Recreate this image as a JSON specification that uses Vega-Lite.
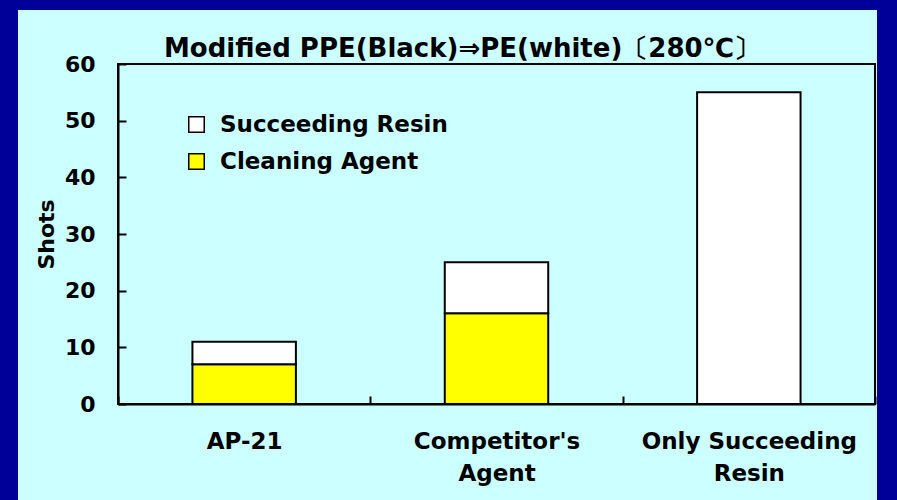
{
  "$schema": "https://vega.github.io/schema/vega-lite/v6.json",
  "background": "#CCFFFF",
  "padding": 0,
  "autosize": {"type": "pad"},
  "spacing": 0,
  "bounds": "full",
  "config": {"view": {"stroke": null}},
  "vconcat": [
    {
      "width": 897,
      "height": 10,
      "view": {"fill": "#000099", "stroke": null},
      "data": {"values": []},
      "mark": "rect",
      "encoding": {}
    },
    {
      "spacing": 0,
      "bounds": "full",
      "hconcat": [
        {
          "width": 18,
          "height": 490,
          "view": {"fill": "#000099", "stroke": null},
          "data": {"values": []},
          "mark": "rect",
          "encoding": {}
        },
        {
          "spacing": 24,
          "bounds": "full",
          "vconcat": [
            {
              "width": 757,
              "height": 1,
              "view": {"fill": null, "stroke": null},
              "data": {"values": []},
              "mark": "rect",
              "encoding": {}
            },
            {
              "width": 757,
              "height": 340,
              "view": {"stroke": "black", "strokeWidth": 2, "fill": null},
              "title": {
                "text": "Modified PPE(Black)⇒PE(white)〔280℃〕",
                "anchor": "start",
                "frame": "group",
                "dx": 46,
                "offset": -9,
                "font": "DejaVu Sans",
                "fontSize": 26,
                "fontWeight": "bold",
                "color": "black"
              },
              "data": {
                "values": [
                  {"category": "AP-21", "series": "Cleaning Agent", "shots": 7},
                  {"category": "AP-21", "series": "Succeeding Resin", "shots": 4},
                  {"category": "Competitor's Agent", "series": "Cleaning Agent", "shots": 16},
                  {"category": "Competitor's Agent", "series": "Succeeding Resin", "shots": 9},
                  {"category": "Only Succeeding Resin", "series": "Succeeding Resin", "shots": 55}
                ]
              },
              "mark": {"type": "bar", "stroke": "black", "strokeWidth": 2, "width": {"band": 0.41}},
              "encoding": {
                "x": {
                  "field": "category",
                  "type": "nominal",
                  "sort": null,
                  "scale": {"paddingInner": 0, "paddingOuter": 0},
                  "axis": {
                    "title": null,
                    "labelAngle": 0,
                    "labelFont": "DejaVu Sans",
                    "labelFontWeight": "bold",
                    "labelFontSize": 23,
                    "labelColor": "black",
                    "labelLineHeight": 32,
                    "labelPadding": 34,
                    "labelLimit": 400,
                    "tickBand": "extent",
                    "tickSize": -8,
                    "tickWidth": 2,
                    "tickColor": "black",
                    "domainColor": "black",
                    "domainWidth": 2,
                    "labelExpr": "datum.value === 'AP-21' ? 'AP-21' : datum.value === 'Only Succeeding Resin' ? ['Only Succeeding', 'Resin'] : datum.value === \"Competitor's Agent\" ? [\"Competitor's\", 'Agent'] : ''"
                  }
                },
                "y": {
                  "field": "shots",
                  "type": "quantitative",
                  "stack": "zero",
                  "scale": {"domain": [0, 60], "nice": false},
                  "axis": {
                    "title": ["", "Shots"],
                    "titleLineHeight": 16,
                    "titleFont": "DejaVu Sans",
                    "titleFontSize": 22,
                    "titleFontWeight": "bold",
                    "titleColor": "black",
                    "titleX": -76,
                    "values": [0, 10, 20, 30, 40, 50, 60],
                    "grid": false,
                    "tickSize": -8,
                    "tickWidth": 2,
                    "tickColor": "black",
                    "domainColor": "black",
                    "domainWidth": 2,
                    "labelPadding": 31,
                    "labelFont": "DejaVu Sans",
                    "labelFontWeight": "bold",
                    "labelFontSize": 22,
                    "labelColor": "black"
                  }
                },
                "color": {
                  "field": "series",
                  "type": "nominal",
                  "scale": {"domain": ["Succeeding Resin", "Cleaning Agent"], "range": ["#FFFFFF", "#FFFF00"]},
                  "legend": {
                    "title": null,
                    "orient": "none",
                    "legendX": 185,
                    "legendY": 113,
                    "symbolType": "square",
                    "symbolSize": 240,
                    "symbolStrokeColor": "black",
                    "symbolStrokeWidth": 1.5,
                    "symbolOpacity": 1,
                    "labelFont": "DejaVu Sans",
                    "labelFontWeight": "bold",
                    "labelFontSize": 23,
                    "labelColor": "black",
                    "labelOffset": 12,
                    "labelLimit": 400,
                    "rowPadding": 13,
                    "padding": 0
                  }
                },
                "order": {"field": "series", "sort": "ascending"}
              }
            }
          ]
        },
        {
          "width": 20,
          "height": 490,
          "view": {"fill": "#000099", "stroke": null},
          "data": {"values": []},
          "mark": "rect",
          "encoding": {}
        }
      ]
    }
  ]
}
